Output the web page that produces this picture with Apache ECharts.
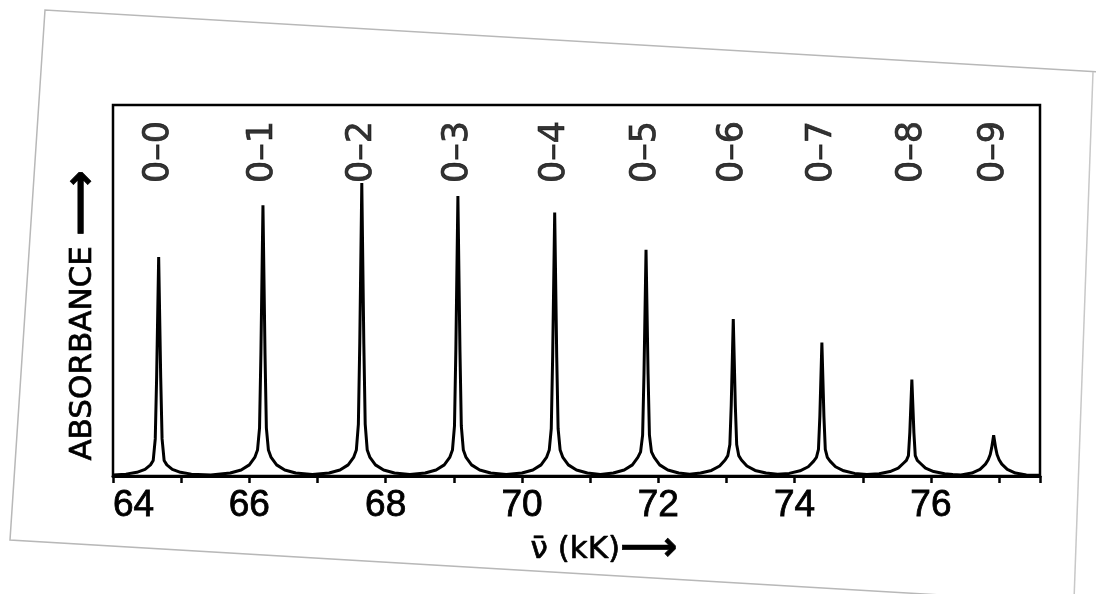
<!DOCTYPE html>
<html>
<head>
<meta charset="utf-8">
<script src="https://cdn.jsdelivr.net/npm/echarts@6/dist/echarts.min.js"></script>
<style>
  html, body { margin: 0; padding: 0; background: #fff; }
  #chart { width: 1096px; height: 594px; }
</style>
</head>
<body>
<div id="chart"></div>
<script>
// Vibronic progression 0–n: band labels, band positions (kK) and peak absorbance (arb. units)
const peakNames = ['0–0', '0–1', '0–2', '0–3', '0–4', '0–5', '0–6', '0–7', '0–8', '0–9'];
const peakPos = [64.67, 66.20, 67.65, 69.06, 70.48, 71.82, 73.10, 74.40, 75.72, 76.92];
const peakHeight = [59, 73, 79, 75.5, 71, 61, 42.3, 36, 26, 11];

// Traced absorption spectrum: [wavenumber (kK), absorbance]
const spectrum = [
  [64.00, 0.3],
  [64.19, 0.5], [64.35, 1.0], [64.47, 1.8], [64.55, 3.0], [64.59, 4.2], [64.62, 10], [64.64, 26.5],
  [64.67, 59],
  [64.70, 26.5], [64.72, 10], [64.75, 4.2], [64.79, 3.0], [64.87, 1.8], [64.99, 1.0], [65.15, 0.5],
  [65.435, 0.3],

  [65.72, 0.8], [65.88, 1.6], [66.00, 3.0], [66.08, 5.0], [66.12, 7.0], [66.15, 13], [66.17, 33],
  [66.20, 73],
  [66.23, 33], [66.25, 13], [66.28, 7.0], [66.32, 5.0], [66.40, 3.0], [66.52, 1.6], [66.68, 0.8],
  [66.925, 0.4],

  [67.17, 0.8], [67.33, 1.6], [67.45, 3.0], [67.53, 5.0], [67.57, 7.0], [67.60, 14], [67.62, 35.5],
  [67.65, 79],
  [67.68, 35.5], [67.70, 14], [67.73, 7.0], [67.77, 5.0], [67.85, 3.0], [67.97, 1.6], [68.13, 0.8],
  [68.355, 0.4],

  [68.58, 0.8], [68.74, 1.6], [68.86, 3.0], [68.94, 5.0], [68.98, 7.0], [69.01, 13.5], [69.03, 34],
  [69.06, 75.5],
  [69.09, 34], [69.11, 13.5], [69.14, 7.0], [69.18, 5.0], [69.26, 3.0], [69.38, 1.6], [69.54, 0.8],
  [69.77, 0.4],

  [70.00, 0.8], [70.16, 1.6], [70.28, 3.0], [70.36, 5.0], [70.40, 7.0], [70.43, 12.8], [70.45, 32],
  [70.48, 71],
  [70.51, 32], [70.53, 12.8], [70.56, 7.0], [70.60, 5.0], [70.68, 3.0], [70.80, 1.6], [70.96, 0.8],
  [71.15, 0.4],

  [71.34, 0.8], [71.50, 1.6], [71.62, 3.0], [71.70, 5.0], [71.74, 6.5], [71.77, 11], [71.79, 27.5],
  [71.82, 61],
  [71.85, 27.5], [71.87, 11], [71.90, 6.5], [71.94, 5.0], [72.02, 3.0], [72.14, 1.6], [72.30, 0.8],
  [72.46, 0.5],

  [72.62, 0.8], [72.78, 1.5], [72.90, 2.7], [72.98, 4.3], [73.02, 5.5], [73.05, 8.5], [73.07, 19],
  [73.10, 42.3],
  [73.13, 19], [73.15, 8.5], [73.18, 5.5], [73.22, 4.3], [73.30, 2.7], [73.42, 1.5], [73.58, 0.8],
  [73.75, 0.5],

  [73.92, 0.7], [74.08, 1.4], [74.20, 2.5], [74.28, 4.0], [74.32, 5.0], [74.35, 7.2], [74.37, 16],
  [74.40, 36],
  [74.43, 16], [74.45, 7.2], [74.48, 5.0], [74.52, 4.0], [74.60, 2.5], [74.72, 1.4], [74.88, 0.7],
  [75.06, 0.4],

  [75.24, 0.6], [75.40, 1.2], [75.52, 2.1], [75.60, 3.5], [75.64, 4.2], [75.67, 5.5], [75.69, 11.7],
  [75.72, 26],
  [75.75, 11.7], [75.77, 5.5], [75.80, 4.2], [75.84, 3.5], [75.92, 2.1], [76.04, 1.2], [76.20, 0.6],
  [76.32, 0.4],

  [76.44, 0.3], [76.60, 0.8], [76.72, 1.8], [76.80, 3.2], [76.84, 4.4], [76.87, 5.8], [76.89, 7.5],
  [76.92, 11],
  [76.95, 7.5], [76.97, 5.8], [77.00, 4.4], [77.04, 3.2], [77.12, 1.8], [77.24, 0.8], [77.40, 0.3],
  [77.60, 0.2]
];

const xMin = 64, xMax = 77.6;
const labelBaseY = 79;   // band labels start just above the tallest band

const chart = echarts.init(document.getElementById('chart'), null, { renderer: 'canvas' });

const ink = '#000';
const sans = "'Liberation Sans', Arial, sans-serif";
const wide = "'DejaVu Sans', sans-serif";

chart.setOption({
  animation: false,
  backgroundColor: '#fff',
  graphic: [
    // outline of the sheet the figure is printed on
    {
      type: 'polyline', silent: true, z: -10,
      shape: { points: [[1100, 72], [45, 10], [10, 540], [975, 597]] },
      style: { stroke: '#b8b8b8', lineWidth: 1.5, fill: null }
    },
    {
      type: 'polyline', silent: true, z: -10,
      shape: { points: [[1093, 72], [1074, 600]] },
      style: { stroke: '#c8c8c8', lineWidth: 1.5, fill: null }
    }
  ],
  grid: {
    left: 113, top: 105, width: 927, height: 371,
    show: true, borderColor: ink, borderWidth: 2.5, backgroundColor: 'transparent'
  },
  xAxis: {
    type: 'value',
    min: xMin, max: xMax, interval: 1,
    name: 'ν\u0304 (kK){arr|⟶}',
    nameLocation: 'middle',
    nameGap: 40,
    nameTextStyle: {
      fontSize: 31, color: ink, fontFamily: wide, padding: [0, 0, 0, 55],
      textBorderColor: ink, textBorderWidth: 0.7,
      rich: { arr: { fontSize: 40, fontFamily: wide, fontWeight: 'bold', color: ink } }
    },
    axisLine: { lineStyle: { color: ink, width: 3 } },
    axisTick: { length: 7, lineStyle: { color: ink, width: 2.5 } },
    axisLabel: {
      fontSize: 37, color: ink, fontFamily: sans, margin: 11,
      textBorderColor: ink, textBorderWidth: 0.8,
      alignMinLabel: 'left',
      formatter: v => (Math.abs(v % 2) < 1e-9 ? String(v) : '')
    },
    splitLine: { show: false }
  },
  yAxis: {
    type: 'value',
    min: 0, max: 100,
    name: 'ABSORBANCE {arr|⟶}',
    nameLocation: 'middle',
    nameGap: 7,
    nameTextStyle: {
      fontSize: 31, color: ink, fontFamily: wide, padding: [0, 50, 0, 0],
      textBorderColor: ink, textBorderWidth: 0.7,
      rich: { arr: { fontSize: 46, fontFamily: wide, fontWeight: 'bold', color: ink } }
    },
    axisLine: { show: false },
    axisTick: { show: false },
    axisLabel: { show: false },
    splitLine: { show: false }
  },
  series: [
    {
      type: 'line',
      data: spectrum,
      symbol: 'none',
      lineStyle: { color: ink, width: 3, join: 'bevel' },
      clip: true,
      z: 3
    },
    {
      type: 'scatter',
      data: peakPos.map((x, i) => ({ value: [x, labelBaseY], name: peakNames[i], peak: peakHeight[i] })),
      symbolSize: 1,
      itemStyle: { color: 'rgba(0,0,0,0)' },
      label: {
        show: true,
        position: 'inside',
        rotate: 90,
        align: 'left',
        verticalAlign: 'middle',
        formatter: p => p.name,
        fontSize: 35,
        color: ink,
        fontFamily: wide,
        textBorderColor: ink,
        textBorderWidth: 0.7
      },
      z: 4
    }
  ]
});
</script>
</body>
</html>
